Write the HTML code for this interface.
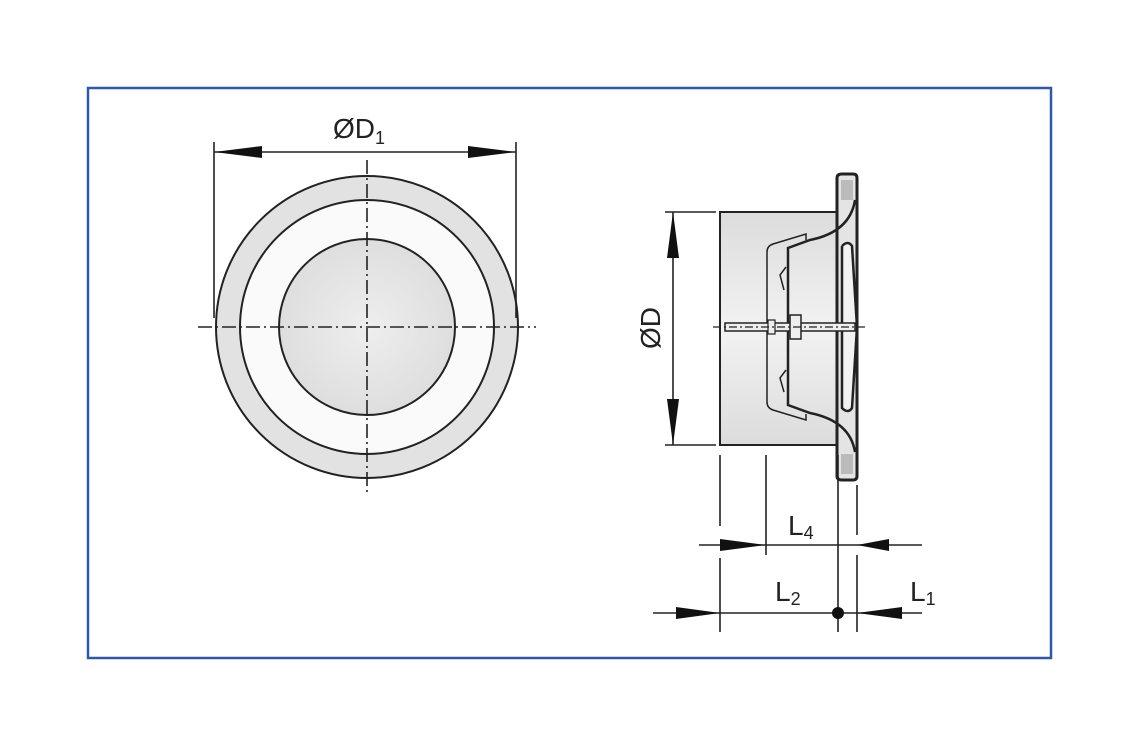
<!DOCTYPE html>
<html><head><style>body{margin:0;background:#fff}svg{display:block}</style></head><body>
<svg width="1130" height="739" viewBox="0 0 1130 739" font-family="Liberation Sans, sans-serif">
<defs>
<linearGradient id="g" x1="0" y1="0" x2="0" y2="1"><stop offset="0" stop-color="#dcdcdc"/><stop offset="0.5" stop-color="#f2f2f2"/><stop offset="1" stop-color="#dcdcdc"/></linearGradient>
<radialGradient id="r"><stop offset="0" stop-color="#eeeeee"/><stop offset="1" stop-color="#dedede"/></radialGradient>
</defs>
<rect x="88" y="88" width="963" height="570" fill="#fff" stroke="#2f58a8" stroke-width="2.5"/>
<g stroke="#222" stroke-width="2">
<circle cx="367" cy="327" r="151" fill="#e2e2e2"/>
<circle cx="367" cy="327" r="127" fill="#fafafa"/>
<circle cx="367" cy="327" r="88" fill="url(#r)"/>
</g>
<g stroke="#222" stroke-width="1.6" stroke-dasharray="14 4 2 4">
<line x1="198" y1="327" x2="536" y2="327"/><line x1="367" y1="160" x2="367" y2="492"/>
</g>
<g stroke="#222" stroke-width="1.6">
<line x1="214" y1="142" x2="214" y2="318"/><line x1="516" y1="142" x2="516" y2="318"/>
<line x1="214" y1="152" x2="516" y2="152"/>
</g>
<polygon points="214,152 262,146 262,158" fill="#111"/><polygon points="516,152 468,146 468,158" fill="#111"/>
<text x="333" y="138" font-size="28" fill="#222">ØD<tspan font-size="18" dy="6">1</tspan></text>

<!-- right view -->
<rect x="720" y="212" width="118" height="233" fill="url(#g)" stroke="#222" stroke-width="2"/>
<path d="M837,178 Q837,174 842,174 L853,174 Q857,174 857,178 L857,476 Q857,480 853,480 L842,480 Q837,480 837,476 Z" fill="#e4e4e4" stroke="#222" stroke-width="3"/>
<rect x="841" y="180" width="12" height="20" fill="#bbb"/><rect x="841" y="454" width="12" height="20" fill="#bbb"/>
<path d="M855,200 Q850,232 810,240 L788,248 L788,405 L810,413 Q850,421 855,452" fill="none" stroke="#222" stroke-width="2.5"/>
<path d="M842,246 Q848,240 852,246 L857,327 L852,408 Q848,414 842,408 L842,246" fill="#f2f2f2" stroke="#222" stroke-width="2.5"/>
<path d="M806,240 L806,234 L773,244 Q767,246 767,252 L767,402 Q767,408 773,410 L806,420 L806,414" fill="none" stroke="#222" stroke-width="1.5"/>
<path d="M786,267 L780,275 L784,290 M786,370 L780,378 L784,392" fill="none" stroke="#222" stroke-width="1.5"/>
<rect x="725" y="323" width="130" height="8" fill="#eee" stroke="#222" stroke-width="1.5"/>
<rect x="768" y="320" width="7" height="14" fill="#eee" stroke="#222" stroke-width="1.2"/>
<rect x="790" y="315" width="11" height="24" fill="#eee" stroke="#222" stroke-width="1.5"/>
<line x1="713" y1="327" x2="867" y2="327" stroke="#222" stroke-width="1.2" stroke-dasharray="8 3 2 3"/>

<g stroke="#222" stroke-width="1.6">
<line x1="665" y1="212" x2="716" y2="212"/><line x1="665" y1="445" x2="716" y2="445"/>
<line x1="673" y1="212" x2="673" y2="445"/>
<line x1="720" y1="455" x2="720" y2="526"/><line x1="720" y1="558" x2="720" y2="632"/>
<line x1="766" y1="455" x2="766" y2="555"/>
<line x1="838" y1="455" x2="838" y2="632"/>
<line x1="857" y1="485" x2="857" y2="535"/><line x1="857" y1="555" x2="857" y2="632"/>
<line x1="699" y1="545" x2="922" y2="545"/>
<line x1="653" y1="613" x2="922" y2="613"/>
</g>
<polygon points="673,212 667,258 679,258" fill="#111"/><polygon points="673,445 667,399 679,399" fill="#111"/>
<polygon points="766,545 720,539 720,551" fill="#111"/>
<polygon points="857,545 889,539 889,551" fill="#111"/>
<polygon points="720,613 676,607 676,619" fill="#111"/>
<polygon points="857,613 902,607 902,619" fill="#111"/>
<circle cx="838" cy="613" r="6" fill="#111"/>
<text transform="translate(660,328) rotate(-90)" text-anchor="middle" font-size="28" fill="#222">ØD</text>
<text x="788" y="535" font-size="28" fill="#222">L<tspan font-size="18" dy="4">4</tspan></text>
<text x="775" y="601" font-size="28" fill="#222">L<tspan font-size="18" dy="4">2</tspan></text>
<text x="910" y="601" font-size="28" fill="#222">L<tspan font-size="18" dy="4">1</tspan></text>
</svg>
</body></html>
